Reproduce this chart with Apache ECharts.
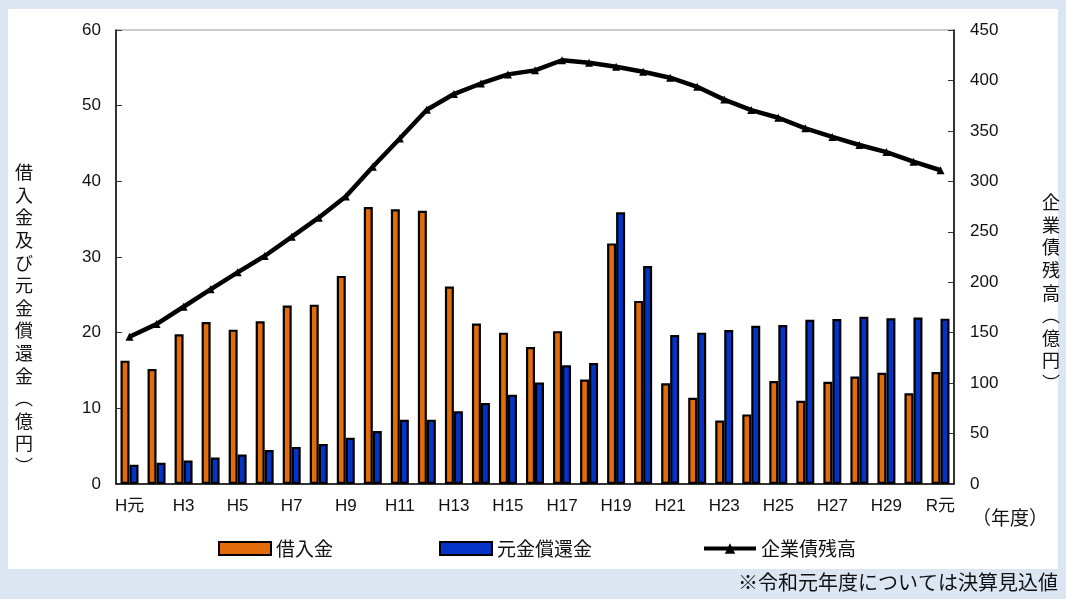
<!DOCTYPE html>
<html><head><meta charset="utf-8">
<script src="https://cdn.jsdelivr.net/npm/echarts@6/dist/echarts.min.js"></script>
<style>html,body{margin:0;padding:0;background:#dce6f2;}#c{width:1066px;height:599px;}</style>
</head><body><div id="c"></div>
<script>
const categories = ['H元','H2','H3','H4','H5','H6','H7','H8','H9','H10','H11','H12','H13','H14','H15','H16','H17','H18','H19','H20','H21','H22','H23','H24','H25','H26','H27','H28','H29','H30','R元'];
const borrowing = [16.3,15.2,19.8,21.4,20.4,21.5,23.6,23.7,27.5,36.6,36.3,36.1,26.1,21.2,20.0,18.1,20.2,13.8,31.8,24.2,13.3,11.4,8.4,9.2,13.6,11.0,13.5,14.2,14.7,12.0,14.8];
const repayment = [2.55,2.8,3.1,3.5,3.9,4.5,4.9,5.3,6.1,7.0,8.5,8.5,9.6,10.7,11.8,13.4,15.7,16.0,35.9,28.8,19.7,20.0,20.35,20.9,21.0,21.7,21.8,22.1,21.9,22.0,21.85];
const debtBalance = [146,158.5,175.7,193,209.8,226,245,264,285,314.5,342.5,371,386.5,397,406,410,420,417.5,413.5,408.6,402.7,393.7,381,370.6,363,352.5,344,336,329,319.5,311];
const leftTicks = {min:0, max:60, interval:10};
const rightTicks = {min:0, max:450, interval:50};
const seriesNames = ['借入金','元金償還金','企業債残高'];
const leftName = '借入金及び元金償還金︵億円︶';
const rightName = '企業債残高︵億円︶';
const yearLabel = '（年度）';
const note = '※令和元年度については決算見込値';

const FONT = '"Liberation Sans","Noto Sans CJK JP",sans-serif';
const JFONT = '"Noto Sans CJK JP",sans-serif';
const chart = echarts.init(document.getElementById('c'));
const axisTxt = {color:'#111', fontSize:17, fontFamily:FONT};
const legTxt = {fontSize:19, fontFamily:JFONT, color:'#111'};
chart.setOption({
  backgroundColor:'#dce6f2',
  animation:false,
  graphic:[
    {type:'rect', z:-10, shape:{x:8,y:9,width:1050,height:560}, style:{fill:'#ffffff'}},
    {type:'text', left:15, top:161, style:{text:leftName.split('').join('\n'), font:'18px '+JFONT, lineHeight:22.6, fill:'#111', align:'center'}},
    {type:'text', left:1042, top:191, style:{text:rightName.split('').join('\n'), font:'18px '+JFONT, lineHeight:22.6, fill:'#111', align:'center'}},
    {type:'text', left:972, top:508, style:{text:yearLabel, font:'19px '+JFONT, fill:'#111'}},
    {type:'text', right:8, top:572, style:{text:note, font:'20px '+JFONT, fill:'#111'}}
  ],
  grid:{left:116, right:112, top:30, bottom:115, show:true, borderColor:'#999', borderWidth:1},
  legend:[
    {data:[{name:seriesNames[0], icon:'rect'}], left:213, top:534, itemWidth:52, itemHeight:13, textStyle:legTxt, itemGap:5},
    {data:[{name:seriesNames[1], icon:'rect'}], left:434, top:534, itemWidth:52, itemHeight:13, textStyle:legTxt, itemGap:5},
    {data:[seriesNames[2]], left:697, top:534, itemWidth:52, itemHeight:13, textStyle:legTxt, itemGap:5,
     lineStyle:{width:4}, itemStyle:{}}
  ],
  xAxis:{type:'category', data:categories, boundaryGap:true,
    axisLine:{lineStyle:{color:'#000', width:1.5}},
    axisTick:{inside:true, length:5, interval:0, lineStyle:{color:'#555'}},
    axisLabel:Object.assign({interval:1, margin:14}, axisTxt)},
  yAxis:[
    {type:'value', min:leftTicks.min, max:leftTicks.max, interval:leftTicks.interval, position:'left',
     axisLine:{show:true, lineStyle:{color:'#000', width:1.5}},
     axisTick:{show:true, inside:true, length:6, lineStyle:{color:'#333'}},
     splitLine:{show:false}, axisLabel:Object.assign({margin:15}, axisTxt)},
    {type:'value', min:rightTicks.min, max:rightTicks.max, interval:rightTicks.interval, position:'right',
     axisLine:{show:true, lineStyle:{color:'#000', width:1.5}},
     axisTick:{show:true, inside:true, length:6, lineStyle:{color:'#333'}},
     splitLine:{show:false}, axisLabel:Object.assign({margin:16}, axisTxt)}
  ],
  series:[
    {name:seriesNames[0], type:'bar', data:borrowing, yAxisIndex:0, barWidth:9, barGap:'0%',
     itemStyle:{color:'#e36c0a', borderColor:'#000', borderWidth:2.2}},
    {name:seriesNames[1], type:'bar', data:repayment, yAxisIndex:0, barWidth:9, barGap:'0%',
     itemStyle:{color:'#0433c8', borderColor:'#000', borderWidth:2.2}},
    {name:seriesNames[2], type:'line', data:debtBalance, yAxisIndex:1, symbol:'triangle', symbolSize:8,
     lineStyle:{color:'#000', width:4.5}, itemStyle:{color:'#000'}, z:5}
  ]
});
</script></body></html>
